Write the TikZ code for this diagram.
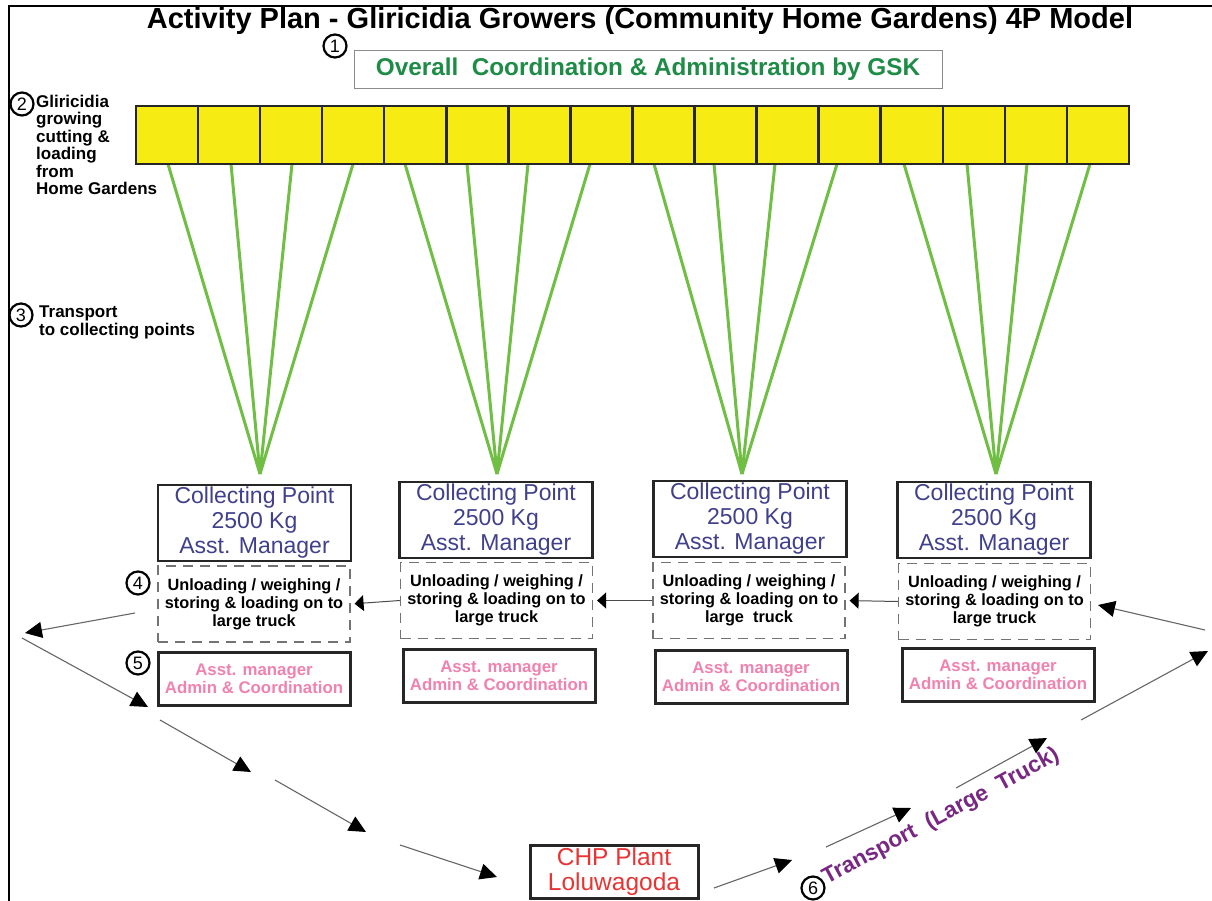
\documentclass[tikz,border=0pt]{standalone}
\usepackage{fontspec}
\setmainfont{Liberation Sans}
\usetikzlibrary{arrows.meta}
\definecolor{gskgreen}{RGB}{30,140,70}
\definecolor{stemgreen}{RGB}{112,190,68}
\definecolor{baryellow}{RGB}{246,236,20}
\definecolor{cpblue}{RGB}{64,64,140}
\definecolor{adminpink}{RGB}{240,130,175}
\definecolor{plantred}{RGB}{232,52,52}
\definecolor{truckpurple}{RGB}{120,40,130}
\begin{document}
\begin{tikzpicture}[x=1pt,y=-1pt,
  numc/.style={circle,draw,line width=2.2pt,minimum size=23pt,inner sep=0pt,font=\fontsize{18}{18}\selectfont},
  lbl/.style={align=left,inner sep=0pt,font=\bfseries\fontsize{17}{17.4}\selectfont},
  cell/.style={draw=black!85,line width=2.5pt,fill=baryellow,minimum width=62.06pt,minimum height=58pt,inner sep=0pt},
  stem/.style={draw=stemgreen,line width=3pt},
  cpbox/.style={draw=black!85,line width=2.5pt,minimum width=193pt,minimum height=76pt,inner sep=0pt,align=center,text=cpblue,font=\fontsize{23}{25}\selectfont},
  dbox/.style={draw=black!55,line width=1.2pt,dash pattern=on 10pt off 7pt,minimum width=192pt,minimum height=76pt,inner sep=0pt,align=center,font=\bfseries\fontsize{16.3}{18}\selectfont},
  pbox/.style={draw=black!85,line width=3pt,minimum width=192pt,minimum height=53pt,inner sep=0pt,align=center,text=adminpink,font=\bfseries\fontsize{16.8}{18}\selectfont},
  bigarrow/.style={draw=black!60,line width=1.1pt,-{Triangle[length=17pt,width=16pt,color=black]}},
  smallarrow/.style={draw=black!70,line width=1pt,-{Triangle[length=9pt,width=16pt,color=black]},shorten >=4pt}]
\useasboundingbox (0,0) rectangle (1212,901);
\fill[white] (0,0) rectangle (1212,901);

% frame lines
\draw[line width=2.2pt] (9,901) -- (9,6) -- (1212,6);

% title and coordination box
\node[anchor=base,font=\bfseries\fontsize{29}{31}\selectfont] (title) at (640,29)
  {Activity Plan - Gliricidia Growers (Community Home Gardens) 4P Model};
\node[numc] (n1) at (335,46) {1};
\node[draw=black!45,line width=0.8pt,minimum width=588pt,minimum height=38pt,inner sep=0pt,
      font=\bfseries\fontsize{24.3}{24}\selectfont,text=gskgreen] (gsk) at (648,69)
  {Overall\ \ Coordination \& Administration by GSK};

% meeting points of the green stems
\coordinate (t1) at (260,474);
\coordinate (t2) at (497,474);
\coordinate (t3) at (742,474);
\coordinate (t4) at (996,474);

% stems from the home gardens to the collecting points
\foreach \x/\t in {168/1,231/1,292/1,353/1,405/2,467/2,528/2,590/2,
                   654/3,714/3,775/3,837/3,904/4,967/4,1027/4,1090/4}{
  \coordinate (s\x) at (\x,164);
  \draw[stem] (s\x) -- (t\t);
}

% row of home gardens
\foreach \i in {1,...,16}
  \node[cell] (c\i) at ({136+62.06*(\i-0.5)},135) {};

% left-hand step labels
\node[numc] (n2) at (22,104) {2};
\node[lbl,anchor=north west] (l2) at (36,95)
  {Gliricidia\\growing\\cutting \&\\loading\\from\\Home Gardens};
\node[numc] (n3) at (21,315) {3};
\node[lbl,anchor=north west] (l3) at (39,306) {Transport\\to collecting points};

% collecting points
\node[cpbox] (cp1) at (254.5,523) {Collecting Point\\2500 Kg\\Asst. Manager};
\node[cpbox] (cp2) at (496,520) {Collecting Point\\2500 Kg\\Asst. Manager};
\node[cpbox] (cp3) at (750,519) {Collecting Point\\2500 Kg\\Asst. Manager};
\node[cpbox] (cp4) at (994,520) {Collecting Point\\2500 Kg\\Asst. Manager};

% handling at the collecting points
\node[dbox] (db1) at (254,604) {Unloading / weighing /\\storing \& loading on to\\large truck};
\node[dbox] (db2) at (496.5,600.5) {Unloading / weighing /\\storing \& loading on to\\large truck};
\node[dbox] (db3) at (749,600.5) {Unloading / weighing /\\storing \& loading on to\\large\ \ truck};
\node[dbox] (db4) at (994.5,601.5) {Unloading / weighing /\\storing \& loading on to\\large truck};

% administration
\node[pbox] (pb1) at (254,679) {Asst. manager\\Admin \& Coordination};
\node[pbox] (pb2) at (499,676) {Asst. manager\\Admin \& Coordination};
\node[pbox] (pb3) at (751,677) {Asst. manager\\Admin \& Coordination};
\node[pbox] (pb4) at (998,674.5) {Asst. manager\\Admin \& Coordination};

\node[numc] (n4) at (138,583) {4};
\node[numc] (n5) at (138,663) {5};

% truck moving along the collecting points
\draw[smallarrow] (db4.west) -- (db3.east);
\draw[smallarrow] (db3.west) -- (db2.east);
\draw[smallarrow] (db2.west) -- (db1.east);

% plant
\node[draw=black!85,line width=3pt,minimum width=168pt,minimum height=53pt,inner sep=0pt,
      align=center,text=plantred,font=\fontsize{24.5}{25}\selectfont] (chp) at (614,871.5)
  {CHP Plant\\Loluwagoda};

% route to the plant
\coordinate (a1s) at (135,613); \coordinate (a1e) at (25,633);
\coordinate (a2s) at (22,638);  \coordinate (a2e) at (148,707);
\coordinate (a3s) at (160,720); \coordinate (a3e) at (251,772);
\coordinate (a4s) at (275,780); \coordinate (a4e) at (366,832);
\coordinate (a5s) at (400,845); \coordinate (a5e) at (497,877);
\draw[bigarrow] (a1s) -- (a1e);
\draw[bigarrow] (a2s) -- (a2e);
\draw[bigarrow] (a3s) -- (a3e);
\draw[bigarrow] (a4s) -- (a4e);
\draw[bigarrow] (a5s) -- (a5e);

% route back from the plant
\coordinate (b1s) at (714,888);  \coordinate (b1e) at (792,860);
\coordinate (b2s) at (826,847);  \coordinate (b2e) at (911,808);
\coordinate (b3s) at (956,788);  \coordinate (b3e) at (1047,738);
\coordinate (b4s) at (1081,720); \coordinate (b4e) at (1208,651);
\coordinate (b5s) at (1205,630); \coordinate (b5e) at (1098,605);
\draw[bigarrow] (b1s) -- (b1e);
\draw[bigarrow] (b2s) -- (b2e);
\draw[bigarrow] (b3s) -- (b3e);
\draw[bigarrow] (b4s) -- (b4e);
\draw[bigarrow] (b5s) -- (b5e);

\node[numc] (n6) at (813,888) {6};
\node[rotate=28.3,anchor=base west,inner sep=0pt,font=\bfseries\fontsize{22.5}{22}\selectfont,
      text=truckpurple] (truck) at (827,885) {Transport\ \ (Large\ \ Truck)};
\end{tikzpicture}
\end{document}
